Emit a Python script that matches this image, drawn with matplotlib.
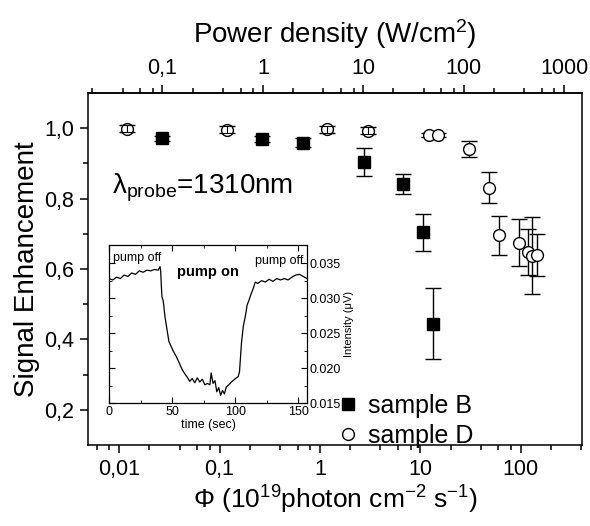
import matplotlib
matplotlib.use('Agg')
import matplotlib.pyplot as plt
import numpy as np
from matplotlib.ticker import FixedLocator, FixedFormatter, NullFormatter

plt.rcParams['font.family'] = ['Liberation Sans', 'DejaVu Sans']
plt.rcParams['mathtext.fontset'] = 'custom'
plt.rcParams['mathtext.rm'] = 'Liberation Sans'
plt.rcParams['mathtext.it'] = 'Liberation Sans:italic'

# sample B (filled squares)
phi_b = [0.027, 0.267, 0.676, 2.72, 6.8, 10.7, 13.5]
se_b = [0.971, 0.969, 0.959, 0.905, 0.842, 0.704, 0.445]
err_b = [0.008, 0.008, 0.012, 0.040, 0.028, 0.052, 0.100]

# sample D (open circles)
phi_d = [0.0119, 0.118, 1.19, 3.04, 12.2, 15.1, 30.4, 48, 61, 96, 119, 129, 144]
se_d = [0.998, 0.995, 0.997, 0.993, 0.981, 0.981, 0.941, 0.831, 0.696, 0.675, 0.649, 0.638, 0.640]
err_d = [0.010, 0.010, 0.010, 0.010, 0.005, 0.005, 0.023, 0.044, 0.055, 0.067, 0.065, 0.110, 0.060]

# inset: intensity trace vs time
t_sec = [0, 3, 6, 9, 12, 15, 18, 21, 24, 27, 30, 33, 36, 39, 40.5, 41, 41.5, 42, 43, 44.5,
         46, 47.5, 49, 51, 53.5, 56, 58, 60, 62, 64, 66, 68, 70, 72, 74, 76, 78, 80, 81, 82.5,
         84, 85.5, 87, 88.5, 90, 91.5, 93, 95, 97, 99, 101, 102.5, 103.5, 105, 106.5, 108, 109.5, 111, 112.5, 114,
         116, 118, 121, 124, 127, 130, 133, 136, 139, 142, 145, 148, 151, 154, 157]
intensity = [0.0328, 0.0326, 0.0330, 0.0328, 0.0333, 0.0331, 0.0336, 0.0334, 0.0339, 0.0337,
             0.0340, 0.0339, 0.0341, 0.0340, 0.0345, 0.0338, 0.0318, 0.0302, 0.0296, 0.0272,
             0.0255, 0.0238, 0.0232, 0.0224, 0.0216, 0.0206, 0.0198, 0.0192, 0.0187, 0.0181,
             0.0185, 0.0179, 0.0186, 0.0180, 0.0184, 0.0176, 0.0178, 0.0176, 0.0193, 0.0178,
             0.0182, 0.0166, 0.0172, 0.0161, 0.0168, 0.0163, 0.0173, 0.0176, 0.0180, 0.0183,
             0.0186, 0.0188, 0.0195, 0.0235, 0.0260, 0.0273, 0.0290, 0.0297, 0.0305, 0.0312,
             0.0323, 0.0321, 0.0325, 0.0323, 0.0327, 0.0324, 0.0328, 0.0326, 0.0328, 0.0326,
             0.0330, 0.0333, 0.0334, 0.0331, 0.0328]

bottom_ticks = [0.01, 0.1, 1, 10, 100]
bottom_labels = ['0,01', '0,1', '1', '10', '100']
top_ticks = [0.1, 1, 10, 100, 1000]
top_labels = ['0,1', '1', '10', '100', '1000']
y_ticks = [0.2, 0.4, 0.6, 0.8, 1.0]
y_labels = ['0,2', '0,4', '0,6', '0,8', '1,0']
power_factor = 3.7  # W/cm2 per 1e19 photon cm-2 s-1

fig = plt.figure(figsize=(5.9, 5.26), dpi=100)
ax = fig.add_axes([88/590, 1-445/526, (582-88)/590, (445-93)/526])

lw = 1.1
for s in ax.spines.values():
    s.set_linewidth(lw)

ms = 8.5
ax.errorbar(phi_b, se_b, yerr=err_b, fmt='none', ecolor='black', elinewidth=1.0, capsize=5.5, capthick=1.0, zorder=2)
ax.plot(phi_b, se_b, 's', color='black', ms=ms, zorder=3, label='sample B')
ax.errorbar(phi_d, se_d, yerr=err_d, fmt='none', ecolor='black', elinewidth=1.0, capsize=5.5, capthick=1.0, zorder=2)
ax.plot(phi_d, se_d, 'o', mfc='white', mec='black', mew=1.0, ms=ms, zorder=3, label='sample D')
# small errors show through the circles
small = [i for i, e in enumerate(err_d) if e <= 0.01 and phi_d[i] < 10]
ax.errorbar([phi_d[i] for i in small], [se_d[i] for i in small], yerr=[err_d[i] for i in small],
            fmt='none', ecolor='black', elinewidth=0.8, capsize=4, capthick=0.8, zorder=4)

ax.set_xscale('log')
ax.set_xlim(0.0049, 408)
ax.set_ylim(0.1, 1.1)
ax.xaxis.set_major_locator(FixedLocator(bottom_ticks))
ax.xaxis.set_major_formatter(FixedFormatter(bottom_labels))
ax.xaxis.set_minor_locator(FixedLocator([m * 10.0**k for k in range(-3, 3) for m in (2, 4, 6, 8)]))
ax.xaxis.set_minor_formatter(NullFormatter())
ax.yaxis.set_major_locator(FixedLocator(y_ticks))
ax.yaxis.set_major_formatter(FixedFormatter(y_labels))
ax.yaxis.set_minor_locator(FixedLocator([0.3, 0.5, 0.7, 0.9]))
ax.tick_params(which='major', direction='out', length=6, width=lw, labelsize=15.5, pad=4)
ax.tick_params(which='minor', direction='out', length=3.5, width=lw)
ax.tick_params(top=False, right=False)

ax.set_xlabel('Φ (10$^{19}$photon cm$^{-2}$ s$^{-1}$)', fontsize=19, labelpad=3)
ax.set_ylabel('Signal Enhancement', fontsize=20, labelpad=3)

top = ax.secondary_xaxis('top', functions=(lambda x: x * power_factor, lambda x: x / power_factor))
top.xaxis.set_major_locator(FixedLocator(top_ticks))
top.xaxis.set_major_formatter(FixedFormatter(top_labels))
top.xaxis.set_minor_locator(FixedLocator([m * 10.0**k for k in range(-2, 4) for m in (2, 4, 6, 8)]))
top.xaxis.set_minor_formatter(NullFormatter())
top.tick_params(which='major', direction='out', length=6, width=lw, labelsize=15.5, pad=4)
top.tick_params(which='minor', direction='out', length=3.5, width=lw)
top.spines['top'].set_linewidth(lw)
top.set_xlabel('Power density (W/cm$^{2}$)', fontsize=20, labelpad=11)

ax.text(0.048, 0.73, 'λ$_{\\mathrm{probe}}$=1310nm', transform=ax.transAxes, fontsize=20,
        ha='left', va='center')

ax.legend(loc='center left', bbox_to_anchor=(0.501, 0.068), frameon=False, fontsize=18,
          handletextpad=0.3, labelspacing=0.25, handlelength=1.0, borderaxespad=0, borderpad=0)

# inset
axi = fig.add_axes([109/590, 1-403/526, (307-109)/590, (403-245)/526])
axi.plot(t_sec, intensity, color='black', lw=0.9)
axi.set_xlim(0, 157)
axi.set_ylim(0.015, 0.0376)
axi.set_xticks([0, 50, 100, 150])
axi.set_xticks([25, 75, 125], minor=True)
axi.set_yticks([0.015, 0.020, 0.025, 0.030, 0.035])
axi.set_yticks([0.0175, 0.0225, 0.0275, 0.0325], minor=True)
axi.yaxis.tick_right()
axi.yaxis.set_label_position('right')
axi.tick_params(which='both', direction='in', top=True, left=True, right=True, labelsize=9, pad=2)
axi.tick_params(which='major', length=4)
axi.tick_params(which='minor', length=2.5)
axi.set_xlabel('time (sec)', fontsize=9, labelpad=1)
axi.set_ylabel('Intensity (μV)', fontsize=8, labelpad=2)
for s in axi.spines.values():
    s.set_linewidth(0.9)
axi.text(0.02, 0.92, 'pump off', transform=axi.transAxes, fontsize=9, ha='left', va='center')
axi.text(0.98, 0.90, 'pump off', transform=axi.transAxes, fontsize=9, ha='right', va='center')
axi.text(0.50, 0.83, 'pump on', transform=axi.transAxes, fontsize=10.5, fontweight='bold',
         ha='center', va='center')

fig.savefig('out.png', dpi=100)
